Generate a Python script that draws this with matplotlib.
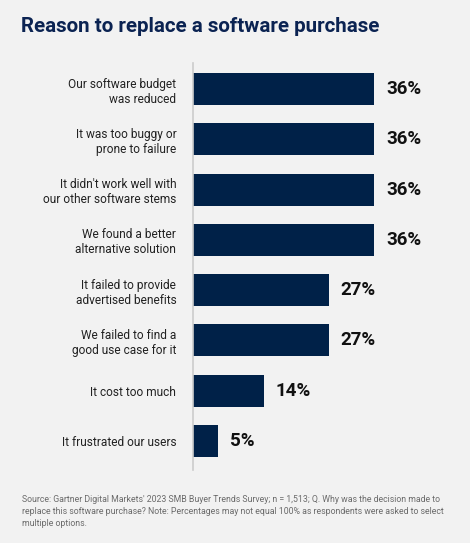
import matplotlib
matplotlib.use("Agg")
import matplotlib.pyplot as plt

# data
reasons = [
    "Our software budget\nwas reduced",
    "It was too buggy or\nprone to failure",
    "It didn't work well with\nour other software stems",
    "We found a better\nalternative solution",
    "It failed to provide\nadvertised benefits",
    "We failed to find a\ngood use case for it",
    "It cost too much",
    "It frustrated our users",
]
percent = [36, 36, 36, 36, 27, 27, 14, 5]

title = "Reason to replace a software purchase"
note = ("Source: Gartner Digital Markets' 2023 SMB Buyer Trends Survey; n = 1,513; Q. Why was the decision made to\n"
        "replace this software purchase? Note: Percentages may not equal 100% as respondents were asked to select\n"
        "multiple options.")

bg = "#f2f2f2"
navy = "#002148"

W, H = 470, 543
fig = plt.figure(figsize=(W / 100, H / 100), dpi=100, facecolor=bg)

# axes box in pixels: left 193, top 63, bottom 470
ax = fig.add_axes([193 / W, 1 - 470 / H, (W - 193) / W, (470 - 63) / H])
ax.set_facecolor(bg)

ypos = list(range(len(reasons)))
ax.barh(ypos, percent, height=0.64, color=navy)
ax.set_ylim(7.58, -0.52)
ax.set_xlim(0, 55)

for y, v in zip(ypos, percent):
    ax.text(v + 2.3, y, f"{v}%", va="center", ha="left", fontsize=13.5,
            fontweight="bold", color="#111111", family="Roboto")

ax.set_yticks(ypos)
ax.set_yticklabels(reasons, fontsize=8.6, color="#222222", family="Roboto",
                   linespacing=1.2)
ax.tick_params(axis="y", length=0, pad=12)
ax.set_xticks([])
for s in ["top", "right", "bottom"]:
    ax.spines[s].set_visible(False)
ax.spines["left"].set_color("#cccccc")
ax.spines["left"].set_linewidth(1.2)

fig.text(21 / W, 1 - 27 / H, title, fontsize=14.8, fontweight="bold",
         color="#0b2352", family="Roboto", va="center", ha="left")
fig.text(22 / W, 1 - 495 / H, note, fontsize=6.3, color="#6b6b6b",
         family="Roboto", va="top", ha="left", linespacing=1.45)

fig.savefig("out.png", dpi=100, facecolor=bg)
